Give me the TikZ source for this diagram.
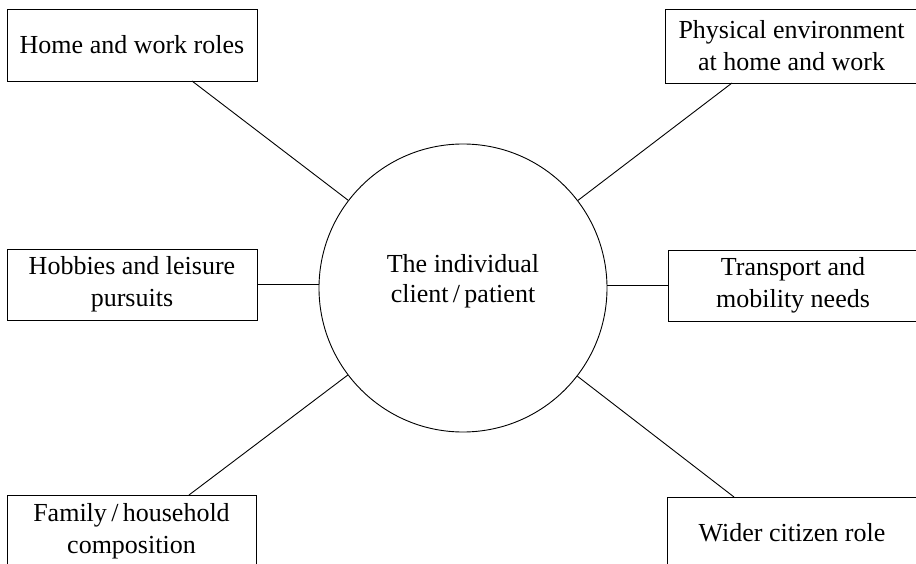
\documentclass[tikz,border=0pt]{standalone}
\usepackage{fontspec}
\setmainfont{Liberation Serif}
\begin{document}
\begin{tikzpicture}[x=1pt,y=-1pt,
  box/.style={draw,line width=0.9pt,inner sep=0pt,align=center,font=\fontsize{26}{32}\selectfont},
  conn/.style={line width=0.9pt}]
\useasboundingbox (0,0) rectangle (916,564);
\clip (0,0) rectangle (916,564);
\fill[white] (0,0) rectangle (916,564);
\node[draw,circle,line width=0.9pt,minimum size=288pt,inner sep=0pt] (circ) at (463,288) {};
\node[align=center,font=\fontsize{26}{30}\selectfont] (ctext) at (463,281) {The individual\\client\,/\,patient};
\node[box,minimum width=250pt,minimum height=72pt] (home) at (132,45) {Home and work roles};
\node[box,minimum width=253pt,minimum height=74pt] (phys) at (791.5,46) {Physical environment\\at home and work};
\node[box,minimum width=250pt,minimum height=71pt] (hob) at (132,284.5) {Hobbies and leisure\\pursuits};
\node[box,minimum width=250pt,minimum height=71pt] (trans) at (793,285.5) {Transport and\\mobility needs};
\node[box,minimum width=249pt,minimum height=72pt] (fam) at (131.5,531) {Family\,/\,household\\composition};
\node[box,minimum width=250pt,minimum height=72pt] (wider) at (792,533) {Wider citizen role};
\coordinate (hA) at (192,81);
\coordinate (pA) at (732,83);
\coordinate (fA) at (189,495);
\coordinate (wA) at (734,497);
\draw[conn] (hA) -- (circ);
\draw[conn] (pA) -- (circ);
\draw[conn] (fA) -- (circ);
\draw[conn] (wA) -- (circ);
\draw[conn] (hob.east) -- (hob.east -| circ.west);
\draw[conn] (trans.west) -- (trans.west -| circ.east);
\end{tikzpicture}
\end{document}
